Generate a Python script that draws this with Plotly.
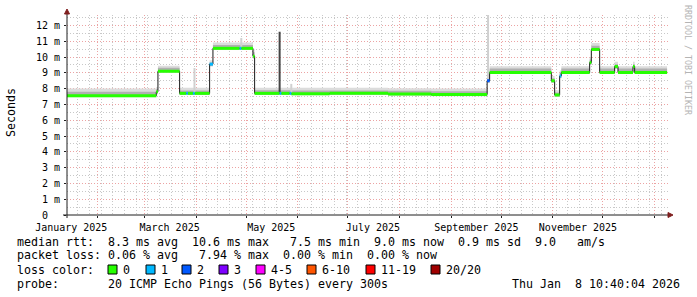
import plotly.graph_objects as go
import pandas as pd

# ---------------- data ----------------
START = "2025-01-13 10:40"
END = "2026-01-08 10:40"
RANGE_END = "2026-01-09 00:00"

seg_start = ["2025-01-13 10:40", "2025-03-08", "2025-03-09", "2025-03-22", "2025-03-26",
             "2025-03-27", "2025-03-30", "2025-03-31", "2025-04-09", "2025-04-11",
             "2025-04-27", "2025-04-28", "2025-05-05", "2025-05-06", "2025-05-21",
             "2025-05-22", "2025-05-27", "2025-05-28", "2025-06-20", "2025-07-25",
             "2025-08-20", "2025-09-22 12:00", "2025-09-24", "2025-10-31", "2025-11-02",
             "2025-11-05", "2025-11-06", "2025-11-23", "2025-11-24", "2025-11-29",
             "2025-12-08", "2025-12-10", "2025-12-19", "2025-12-20"]
median_ms = [7.55, 7.80, 9.10, 7.70, 7.70, 7.70, 7.70, 7.70, 9.55, 10.55,
             10.55, 10.55, 10.05, 7.70, 7.70, 7.70, 7.70, 7.68, 7.70, 7.66,
             7.63, 8.50, 9.02, 8.50, 7.60, 8.80, 9.02, 9.65, 10.48, 9.02,
             9.40, 9.02, 9.40, 9.02]
loss_count = [0, 0, 0, 0, 1, 0, 1, 0, 1, 0,
              1, 0, 0, 0, 1, 0, 1, 0, 0, 0,
              0, 2, 0, 0, 0, 1, 0, 0, 0, 0,
              0, 0, 0, 0]
smoke_lo = [7.45, 7.65, 9.00, 7.60, 7.60, 7.60, 7.60, 7.60, 9.40, 10.45,
            10.45, 10.45, 9.90, 7.60, 7.60, 7.60, 7.60, 7.58, 7.60, 7.56,
            7.52, 8.35, 8.93, 8.35, 7.48, 8.65, 8.93, 9.50, 10.38, 8.93,
            9.25, 8.93, 9.25, 8.93]
smoke_hi = [8.00, 8.10, 9.45, 8.05, 8.05, 8.05, 8.05, 8.05, 9.80, 10.92,
            10.92, 10.92, 10.50, 8.06, 8.06, 8.06, 8.06, 8.06, 8.05, 8.02,
            8.00, 8.90, 9.42, 8.80, 7.90, 9.15, 9.42, 10.00, 10.88, 9.42,
            9.70, 9.42, 9.70, 9.42]
core_lo = [7.48, 7.70, 9.03, 7.63, 7.63, 7.63, 7.63, 7.63, 9.43, 10.48,
           10.48, 10.48, 9.93, 7.62, 7.62, 7.62, 7.62, 7.60, 7.62, 7.58,
           7.55, 8.38, 8.95, 8.38, 7.50, 8.68, 8.95, 9.53, 10.40, 8.95,
           9.28, 8.95, 9.28, 8.95]
core_hi = [7.80, 7.98, 9.32, 7.88, 7.88, 7.88, 7.88, 7.88, 9.65, 10.76,
           10.76, 10.76, 10.30, 7.89, 7.89, 7.89, 7.89, 7.88, 7.88, 7.86,
           7.83, 8.70, 9.27, 8.65, 7.75, 9.00, 9.27, 9.85, 10.72, 9.27,
           9.55, 9.27, 9.55, 9.27]

spike_time = ["2025-03-30 22:00", "2025-04-28", "2025-05-21", "2025-05-28", "2025-09-23 01:00"]
spike_lo = [7.70, 10.60, 7.70, 7.70, 8.60]
spike_hi = [9.30, 11.20, 11.60, 8.30, 12.70]
spike_dark = [False, False, True, False, False]

loss_labels = ["0", "1", "2", "3", "4-5", "6-10", "11-19", "20/20"]
loss_colors = ["#26ff00", "#00b8ff", "#0059ff", "#7e00ff", "#ff00ff", "#ff5500", "#ff0000", "#a00000"]

x_label_ticks = ["2025-01-16", "2025-03-16", "2025-05-16", "2025-07-16", "2025-09-16", "2025-11-16"]
x_label_text = ["January 2025", "March 2025", "May 2025", "July 2025", "September 2025", "November 2025"]
y_ticks = list(range(13))
y_tick_text = ["0\u00a0\u00a0"] + [f"{v}\u00a0m" for v in range(1, 13)]

legend_rtt = "median rtt:  8.3 ms avg  10.6 ms max   7.5 ms min  9.0 ms now  0.9 ms sd  9.0   am/s"
legend_loss = "packet loss: 0.06 % avg   7.94 % max  0.00 % min  0.00 % now"
legend_probe = "probe:       20 ICMP Echo Pings (56 Bytes) every 300s"
legend_date = "Thu Jan  8 10:40:04 2026"

# ---------------- helpers ----------------
PL, PR, PT, PB = 67, 668, 15, 215
def px(p):
    return (p - PL) / (PR - PL)
def py(p):
    return (PB - p) / (PB - PT)
def nb(s):
    return s.replace(" ", "\u00a0")

def loss_class(n):
    if n <= 3:
        return n
    if n <= 5:
        return 4
    if n <= 10:
        return 5
    if n <= 19:
        return 6
    return 7

month_starts = [d.strftime("%Y-%m-%d") for d in pd.date_range("2025-02-01", "2026-01-01", freq="MS")]
mondays = [d.strftime("%Y-%m-%d") for d in pd.date_range("2025-01-14", "2026-01-09", freq="W-MON")]

x_steps = seg_start + [END]
def steps(v):
    return list(v) + [v[-1]]

fig = go.Figure()
# smoke
fig.add_trace(go.Scatter(x=x_steps, y=steps(smoke_lo), mode="lines",
                         line=dict(width=0, shape="hv"), hoverinfo="skip"))
fig.add_trace(go.Scatter(x=x_steps, y=steps(smoke_hi), mode="lines",
                         line=dict(width=0, shape="hv"), fill="tonexty",
                         fillcolor="#dcdcdc", hoverinfo="skip"))
fig.add_trace(go.Scatter(x=x_steps, y=steps(core_lo), mode="lines",
                         line=dict(width=0, shape="hv"), hoverinfo="skip"))
fig.add_trace(go.Scatter(x=x_steps, y=steps(core_hi), mode="lines",
                         line=dict(width=0, shape="hv"), fill="tonexty",
                         fillcolor="#b0b0b0", hoverinfo="skip"))
# spikes
for dark in (False, True):
    sx, sy = [], []
    for t, lo, hi, d in zip(spike_time, spike_lo, spike_hi, spike_dark):
        if d == dark:
            sx += [t, t, None]
            sy += [lo, hi, None]
    fig.add_trace(go.Scatter(x=sx, y=sy, mode="lines",
                             line=dict(width=2, color="#454545" if dark else "#d0d0d0"),
                             hoverinfo="skip"))
# median dark step line
fig.add_trace(go.Scatter(x=x_steps, y=steps(median_ms), mode="lines",
                         line=dict(width=1, color="#1a1a1a", shape="hv"), hoverinfo="skip"))
# loss-coloured median segments
seg_end = seg_start[1:] + [END]
for k, col in enumerate(loss_colors):
    lx, ly = [], []
    for s, e, m, n in zip(seg_start, seg_end, median_ms, loss_count):
        if loss_class(n) == k:
            lx += [s, e, None]
            ly += [m, m, None]
    if lx:
        fig.add_trace(go.Scatter(x=lx, y=ly, mode="lines",
                                 line=dict(width=3, color=col), hoverinfo="skip"))
# invisible trace for label axis
fig.add_trace(go.Scatter(x=[START, END], y=[None, None], xaxis="x2", mode="lines",
                         hoverinfo="skip"))

grid_major = "#eca3a3"
grid_minor = "#c8c8c8"
dash = "1px,2px"
mono = "DejaVu Sans Mono"

fig.update_layout(
    width=697, height=297,
    margin=dict(l=PL, r=697 - PR, t=PT, b=297 - PB, pad=0),
    paper_bgcolor="white", plot_bgcolor="white", showlegend=False,
    font=dict(family=mono, size=10, color="black"),
    xaxis=dict(type="date", range=[START, RANGE_END], tickmode="array", tickvals=month_starts,
               showticklabels=False, ticks="outside", ticklen=2, tickcolor="#1f1f1f",
               showgrid=True, gridcolor=grid_major, griddash=dash, gridwidth=1,
               zeroline=False, showline=False,
               minor=dict(tickmode="array", tickvals=mondays, showgrid=True,
                          gridcolor=grid_minor, griddash=dash, gridwidth=1, ticks="")),
    xaxis2=dict(type="date", overlaying="x", anchor="y", side="bottom",
                range=[START, RANGE_END], tickmode="array", tickvals=x_label_ticks,
                ticktext=x_label_text, showgrid=False, ticks="", zeroline=False,
                showline=False, ticklabelstandoff=5,
                tickfont=dict(family=mono, size=10, color="black")),
    yaxis=dict(range=[0, 12.66], tickmode="array", tickvals=y_ticks, ticktext=y_tick_text,
               showgrid=True, gridcolor=grid_major, griddash=dash, gridwidth=1,
               ticks="outside", ticklen=2, tickcolor="#1f1f1f",
               zeroline=False, showline=False, ticklabelstandoff=2,
               tickfont=dict(family=mono, size=10, color="black"),
               minor=dict(dtick=0.5, tick0=0, showgrid=True, gridcolor=grid_minor,
                          griddash=dash, gridwidth=1, ticks="")),
)

shapes = []
axis_col = "#1f1f1f"
arrow_col = "#7f1f1f"
# x axis line + arrow
shapes.append(dict(type="line", xref="paper", yref="paper", x0=px(63), x1=px(670),
                   y0=0, y1=0, line=dict(color=axis_col, width=1), layer="above"))
shapes.append(dict(type="path", xref="paper", yref="paper",
                   path=f"M {px(668)} {py(212.5)} L {px(673)} {py(215)} L {px(668)} {py(217.5)} Z",
                   fillcolor=arrow_col, line=dict(color=arrow_col, width=1), layer="above"))
# y axis line + arrow
shapes.append(dict(type="line", xref="paper", yref="paper", x0=0, x1=0,
                   y0=py(218), y1=py(12), line=dict(color=axis_col, width=1), layer="above"))
shapes.append(dict(type="path", xref="paper", yref="paper",
                   path=f"M {px(64.5)} {py(14)} L {px(67)} {py(9)} L {px(69.5)} {py(14)} Z",
                   fillcolor=arrow_col, line=dict(color=arrow_col, width=1), layer="above"))

# loss colour legend boxes
box_left = [108, 146, 182, 219, 256, 307, 366, 431]
annotations = []
for bl, col, lab in zip(box_left, loss_colors, loss_labels):
    shapes.append(dict(type="rect", xref="paper", yref="paper",
                       x0=px(bl), x1=px(bl + 9), y0=py(265), y1=py(274),
                       fillcolor=col, line=dict(color="black", width=1)))
    annotations.append(dict(text=nb(lab), xref="paper", yref="paper", x=px(bl + 14), y=py(269.5),
                            xanchor="left", yanchor="middle", showarrow=False, borderpad=0,
                            font=dict(family=mono, size=11.63, color="black")))

def line_ann(text, xpix, ypix, anchor="left"):
    return dict(text=nb(text), xref="paper", yref="paper", x=px(xpix), y=py(ypix),
                xanchor=anchor, yanchor="middle", showarrow=False, borderpad=0,
                font=dict(family=mono, size=11.63, color="black"))

annotations.append(line_ann(legend_rtt, 16, 241.5))
annotations.append(line_ann(legend_loss, 16, 255.3))
annotations.append(line_ann("loss color:", 16, 269.5))
annotations.append(line_ann(legend_probe, 16, 283.5))
annotations.append(line_ann(legend_date, 681, 283.5, anchor="right"))
annotations.append(dict(text="Seconds", xref="paper", yref="paper", x=px(11), y=py(113),
                        textangle=-90, xanchor="center", yanchor="middle", showarrow=False,
                        borderpad=0, font=dict(family=mono, size=11.63, color="black")))
annotations.append(dict(text=nb("RRDTOOL / TOBI OETIKER"), xref="paper", yref="paper",
                        x=px(688), y=py(60), textangle=90, xanchor="center", yanchor="middle",
                        showarrow=False, borderpad=0,
                        font=dict(family=mono, size=8.3, color="#b4b4b4")))

fig.update_layout(shapes=shapes, annotations=annotations)
fig.write_html("out.html")
